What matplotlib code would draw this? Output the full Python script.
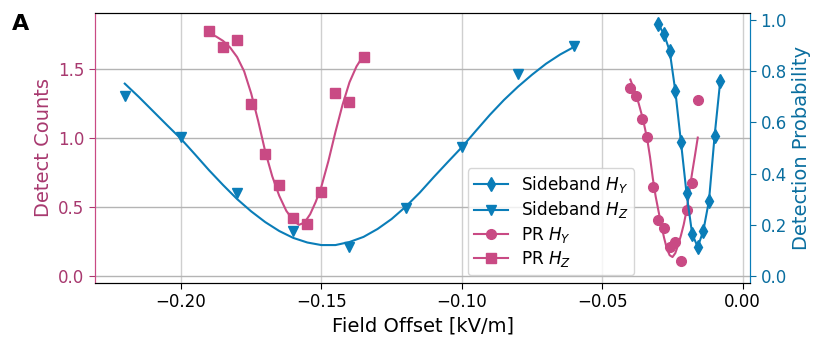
import numpy as np
import matplotlib
matplotlib.use("Agg")
import matplotlib.pyplot as plt

# ---------------- data ----------------
# Sideband H_Y (right axis)
sb_hy_x = [-0.030, -0.028, -0.026, -0.024, -0.022, -0.020, -0.018, -0.016, -0.014, -0.012, -0.010, -0.008]
sb_hy_y = [0.984, 0.945, 0.880, 0.724, 0.525, 0.323, 0.164, 0.112, 0.177, 0.294, 0.548, 0.762]

# Sideband H_Z (right axis)
sb_hz_x = [-0.22, -0.20, -0.18, -0.16, -0.14, -0.12, -0.10, -0.08, -0.06]
sb_hz_y = [0.704, 0.544, 0.325, 0.176, 0.114, 0.264, 0.503, 0.789, 0.900]

# Sideband H_Z fit curve
sb_hz_fit_x = [-0.220, -0.215, -0.210, -0.205, -0.200, -0.195, -0.190, -0.185, -0.180, -0.175,
               -0.170, -0.165, -0.160, -0.155, -0.150, -0.145, -0.140, -0.135, -0.130, -0.125,
               -0.120, -0.115, -0.110, -0.105, -0.100, -0.095, -0.090, -0.085, -0.080, -0.075,
               -0.070, -0.065, -0.060]
sb_hz_fit_y = [0.752, 0.700, 0.645, 0.590, 0.536, 0.475, 0.413, 0.355, 0.300, 0.252,
               0.210, 0.175, 0.148, 0.130, 0.120, 0.120, 0.132, 0.152, 0.183, 0.222,
               0.270, 0.325, 0.386, 0.445, 0.503, 0.567, 0.630, 0.688, 0.740, 0.787,
               0.830, 0.866, 0.896]

# PR H_Y (left axis)
pr_hy_x = [-0.040, -0.038, -0.036, -0.034, -0.032, -0.030, -0.028, -0.026, -0.024, -0.022, -0.020, -0.018, -0.016]
pr_hy_y = [1.356, 1.300, 1.134, 1.002, 0.641, 0.405, 0.342, 0.210, 0.244, 0.103, 0.472, 0.672, 1.272]

# PR H_Y fit curve
pr_hy_fit_x = [-0.040, -0.039, -0.038, -0.037, -0.036, -0.035, -0.034, -0.033, -0.032, -0.031,
               -0.030, -0.029, -0.028, -0.027, -0.026, -0.025, -0.024, -0.023, -0.022, -0.021,
               -0.020, -0.019, -0.018, -0.017, -0.016]
pr_hy_fit_y = [1.420, 1.365, 1.310, 1.245, 1.170, 1.085, 0.990, 0.860, 0.705, 0.575,
               0.470, 0.370, 0.275, 0.195, 0.148, 0.135, 0.163, 0.222, 0.290, 0.370,
               0.470, 0.610, 0.745, 0.870, 1.000]

# PR H_Z (left axis)
pr_hz_x = [-0.190, -0.185, -0.180, -0.175, -0.170, -0.165, -0.160, -0.155, -0.150, -0.145, -0.140, -0.135]
pr_hz_y = [1.770, 1.657, 1.710, 1.241, 0.882, 0.655, 0.417, 0.376, 0.605, 1.324, 1.255, 1.580]

# PR H_Z fit curve
pr_hz_fit_x = [-0.1900, -0.1875, -0.1850, -0.1825, -0.1800, -0.1775, -0.1750, -0.1725, -0.1700,
               -0.1675, -0.1650, -0.1625, -0.1600, -0.1580, -0.1560, -0.1540, -0.1520, -0.1500,
               -0.1475, -0.1450, -0.1425, -0.1400, -0.1375, -0.1350]
pr_hz_fit_y = [1.752, 1.732, 1.700, 1.652, 1.583, 1.480, 1.320, 1.120, 0.900,
               0.720, 0.578, 0.470, 0.400, 0.368, 0.385, 0.445, 0.535, 0.645,
               0.830, 1.040, 1.235, 1.400, 1.515, 1.595]

left_ticks = [0.0, 0.5, 1.0, 1.5]
right_ticks = [0.0, 0.2, 0.4, 0.6, 0.8, 1.0]
x_ticks = [-0.20, -0.15, -0.10, -0.05, 0.00]

# ---------------- style ----------------
PINK = '#C94A84'
PINK_TXT = '#A8396F'
BLUE = '#0A7DB8'
BLUE_TXT = '#0A6E9F'

fig = plt.figure(figsize=(8.13, 3.38), dpi=100)
ax = fig.add_axes([95/813, 1-283/338, (750-95)/813, (283-13)/338])
ax2 = ax.twinx()

lw = 1.5
ms = 7

# left axis (PR)
ax.plot(pr_hz_fit_x, pr_hz_fit_y, '-', color=PINK, lw=lw, zorder=3)
ax.plot(pr_hz_x, pr_hz_y, 's', color=PINK, ms=ms, zorder=4, ls='none')
ax.plot(pr_hy_fit_x, pr_hy_fit_y, '-', color=PINK, lw=lw, zorder=3)
ax.plot(pr_hy_x, pr_hy_y, 'o', color=PINK, ms=ms, zorder=4, ls='none')

# right axis (Sideband)
ax2.plot(sb_hz_fit_x, sb_hz_fit_y, '-', color=BLUE, lw=lw)
ax2.plot(sb_hz_x, sb_hz_y, 'v', color=BLUE, ms=ms, ls='none')
ax2.plot(sb_hy_x, sb_hy_y, '-d', color=BLUE, lw=lw, ms=ms)

ax.set_xlim(-0.2306, 0.0026)
ax.set_ylim(-0.053, 1.902)
ax2.set_ylim(-0.0285, 1.0285)

ax.set_xticks(x_ticks)
ax.set_xticklabels([f"{t:.2f}".replace('-', '\u2212') for t in x_ticks])
ax.set_yticks(left_ticks)
ax.set_yticklabels([f"{t:.1f}" for t in left_ticks])
ax2.set_yticks(right_ticks)
ax2.set_yticklabels([f"{t:.1f}" for t in right_ticks])

ax.grid(True, axis='y', color='#b4b4b4', lw=1.0)
ax.grid(True, axis='x', color='#cfcfcf', lw=1.0)
ax.set_axisbelow(True)

ax.tick_params(axis='x', labelsize=12, length=4)
ax.tick_params(axis='y', labelsize=12, colors=PINK_TXT, length=4)
ax2.tick_params(axis='y', labelsize=12, colors=BLUE_TXT, length=4)

ax.spines['left'].set_color(PINK)
ax2.spines['left'].set_color(PINK)
ax2.spines['right'].set_color(BLUE)
ax.spines['right'].set_color(BLUE)

ax.set_xlabel('Field Offset [kV/m]', fontsize=14)
ax.set_ylabel('Detect Counts', fontsize=14, color=PINK_TXT)
ax2.set_ylabel('Detection Probability', fontsize=14, color=BLUE_TXT)

handles = [
    plt.Line2D([], [], color=BLUE, marker='d', lw=lw, ms=ms),
    plt.Line2D([], [], color=BLUE, marker='v', lw=lw, ms=ms),
    plt.Line2D([], [], color=PINK, marker='o', lw=lw, ms=ms),
    plt.Line2D([], [], color=PINK, marker='s', lw=lw, ms=ms),
]
labels = ['Sideband $H_Y$', 'Sideband $H_Z$', 'PR $H_Y$', 'PR $H_Z$']
ax2.legend(handles, labels, loc='lower left', bbox_to_anchor=(0.569, 0.03),
           borderaxespad=0, fontsize=12.2, numpoints=1, labelspacing=0.25,
           borderpad=0.35)

fig.text(12/813, 1-14/338, 'A', fontsize=16, fontweight='bold', va='top', ha='left')

fig.savefig('out.png', dpi=100)
